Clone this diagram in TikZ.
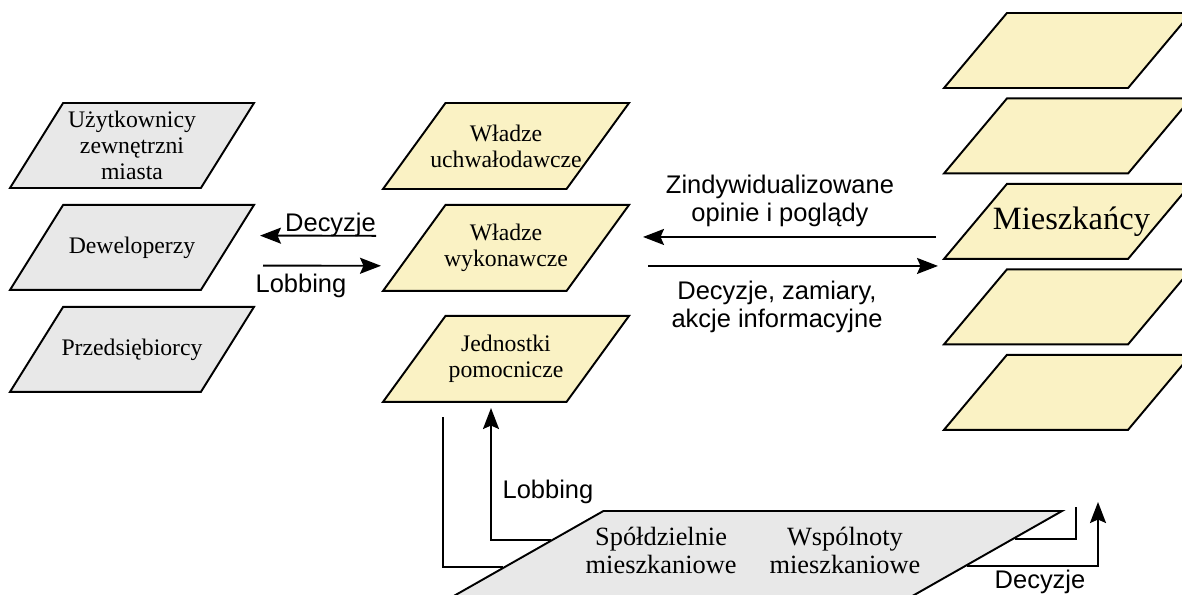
\documentclass[tikz,border=0pt]{standalone}
\usepackage{fontspec}
\setmainfont{Liberation Serif}
\newfontfamily\lblfont{Liberation Sans}
\usetikzlibrary{shapes.geometric, arrows.meta, positioning, calc}
\definecolor{boxGray}{HTML}{E8E8E8}
\definecolor{boxYellow}{HTML}{FAF2C4}

\begin{document}
\begin{tikzpicture}[
    >={Stealth[length=4.2mm, width=3.2mm, inset=0.7mm]},
    line width=1.1pt,
    pbox/.style={draw, shape=trapezium, trapezium stretches body, fill=#1,
                 inner xsep=0pt},
    lbox/.style={pbox=boxGray, trapezium left angle=58, trapezium right angle=122,
                 minimum width=4.88cm, inner ysep=0.85cm},
    mbox/.style={pbox=boxYellow, trapezium left angle=54, trapezium right angle=126,
                 minimum width=4.92cm, inner ysep=0.86cm},
    rbox/.style={pbox=boxYellow, trapezium left angle=50, trapezium right angle=130,
                 minimum width=4.94cm, inner ysep=0.75cm},
    sbox/.style={pbox=boxGray, trapezium left angle=29.6, trapezium right angle=150.4,
                 minimum width=12.2cm, inner ysep=0.86cm},
    txt/.style={font=\fontsize{13.5}{14.8}\selectfont, align=center, inner sep=0pt},
    lbl/.style={font=\lblfont\fontsize{14.5}{16}\selectfont, align=center, inner sep=0pt},
  ]
    \useasboundingbox (0,0) rectangle (23.64,-11.88);
    \clip (0,0) rectangle (23.64,-11.88);

    % Left column: outside actors
    \node[lbox, label={[txt]center:Użytkownicy\\zewnętrzni\\miasta}] (uzy) at (2.64,-2.91) {};
    \node[lbox, below=0.3cm of uzy, label={[txt]center:Deweloperzy}] (dew) {};
    \node[lbox, below=0.3cm of dew, label={[txt]center:Przedsiębiorcy}] (prz) {};

    % Middle column: city authorities
    \node[mbox, label={[txt]center:Władze\\uchwałodawcze}] (uch) at (10.12,-2.92) {};
    \node[mbox, below=0.28cm of uch, label={[txt]center:Władze\\wykonawcze}] (wyk) {};
    \node[mbox, below=0.46cm of wyk, label={[txt]center:Jednostki\\pomocnicze}] (jed) {};

    % Right column: residents
    \node[rbox] (m1) at (21.35,-1.01) {};
    \node[rbox, below=0.17cm of m1] (m2) {};
    \node[rbox, below=0.17cm of m2,
          label={[txt, font=\fontsize{18.5}{20}\selectfont, xshift=0.08cm]center:Mieszkańcy}] (mie) {};
    \node[rbox, below=0.17cm of mie] (m4) {};
    \node[rbox, below=0.17cm of m4] (m5) {};

    % Bottom: housing organisations
    \node[sbox, label={[txt, font=\fontsize{15}{16}\selectfont, xshift=-0.08cm]center:%
      \begin{tabular}{c@{\hspace{0.66cm}}c}
        Spółdzielnie & Wspólnoty\\
        mieszkaniowe & mieszkaniowe
      \end{tabular}}] (spo) at (15.14,-11.08) {};

    % free ends of the bottom connectors
    \coordinate (c1) at (8.86,-8.34);
    \coordinate (lobtip) at (9.82,-8.16);
    \coordinate (c2) at (21.52,-10.14);
    \coordinate (dectip) at (21.96,-10.04);

    % arrows left <-> middle
    \draw[->, shorten <=2.6cm, shorten >=2.56cm] ($(wyk.center)+(0,0.24)$) -- ($(dew.center)+(0,0.24)$);
    \draw[->, shorten <=2.62cm, shorten >=2.5cm] ($(dew.center)+(0,-0.36)$) -- ($(wyk.center)+(0,-0.36)$);

    % arrows middle <-> right
    \draw[->, shorten <=2.63cm, shorten >=2.74cm] ($(mie.center |- wyk.center)+(0,0.22)$) -- ($(wyk.center)+(0,0.22)$);
    \draw[->, shorten <=2.84cm, shorten >=2.59cm] ($(wyk.center)+(0,-0.36)$) -- ($(mie.center |- wyk.center)+(0,-0.36)$);

    % bottom connectors
    \draw (c1) |- ($(spo.top left corner)!0.65!(spo.bottom left corner)$);
    \draw[->] ($(spo.top left corner)!0.34!(spo.bottom left corner)$) -| (lobtip);
    \draw (c2) |- ($(spo.top right corner)!0.33!(spo.bottom right corner)$);
    \draw[->] ($(spo.top right corner)!0.64!(spo.bottom right corner)$) -| (dectip);

    % labels
    \node[lbl, anchor=base] (ldec) at (6.61,-4.62) {Decyzje};
    \node[lbl, anchor=base] (llob) at (6.02,-5.84) {Lobbing};
    \node[lbl] (lopi) at (15.6,-4.01) {Zindywidualizowane\\opinie i poglądy};
    \node[lbl] (lakc) at (15.54,-6.13) {Decyzje, zamiary,\\akcje informacyjne};
    \node[lbl, anchor=base] (llob2) at (10.96,-9.96) {Lobbing};
    \node[lbl, anchor=base] (ldec2) at (20.8,-11.77) {Decyzje};
  \end{tikzpicture}
\end{document}
